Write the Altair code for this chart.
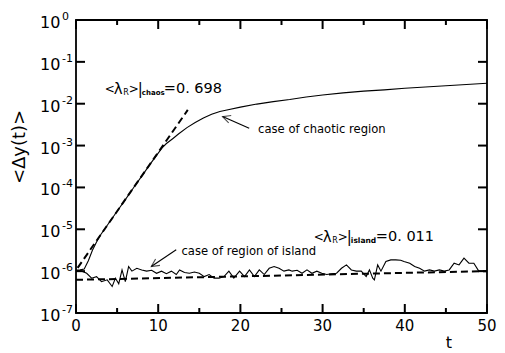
import altair as alt
import pandas as pd

FONT = "DejaVu Sans"
W, H = 411, 293
DECADES = 7

# ---- data ----
chaos_t = [0, 0.5, 1.0, 1.5, 2.0, 2.5, 3, 4, 5, 6, 7, 8, 9, 10, 10.5, 11, 11.8, 12.5, 13.5,
           14.5, 15.5, 16.5, 17.5, 18.5, 20, 22, 24, 26, 28, 30, 32.5, 35, 37.5, 40, 42.5,
           45, 47.5, 50]
chaos_v = [1.05e-6, 1.07e-6, 1.12e-6, 1.78e-6, 3.16e-6, 5.0e-6, 7.4e-6, 1.41e-5, 2.69e-5,
           5.1e-5, 9.8e-5, 1.86e-4, 3.55e-4, 6.6e-4, 8.9e-4, 1.12e-3, 1.48e-3, 1.91e-3,
           2.69e-3, 3.55e-3, 4.57e-3, 5.6e-3, 6.5e-3, 7.2e-3, 8.3e-3, 9.8e-3, 1.12e-2,
           1.26e-2, 1.45e-2, 1.62e-2, 1.82e-2, 2.0e-2, 2.14e-2, 2.34e-2, 2.51e-2, 2.69e-2,
           2.88e-2, 3.09e-2]

chaos_fit_t = [0.2, 13.6]
chaos_fit_v = [1.2e-6, 7.1e-3]

island_t = [0.0, 0.7, 1.3, 1.9, 2.5, 3.1, 3.8, 4.4, 4.8, 5.2, 5.6, 6.0, 6.4, 6.8, 7.4, 8.0,
            8.6, 9.2, 9.8, 10.4, 11.0, 11.6, 12.2, 12.6, 13.2, 13.8, 14.4, 15.0, 15.6, 16.2,
            16.8, 17.4, 18.0, 18.6, 19.2, 19.9, 20.5, 21.1, 21.7, 22.3, 22.9, 23.5, 24.1,
            24.7, 25.3, 25.9, 26.3, 26.9, 27.5, 28.1, 28.7, 29.3, 29.9, 30.5, 31.1, 31.7,
            32.3, 32.9, 33.5, 34.1, 34.7, 35.3, 35.7, 36.1, 36.3, 36.7, 37.1, 37.7, 38.3,
            38.9, 39.5, 39.9, 40.6, 41.2, 41.8, 42.4, 43.0, 43.6, 44.2, 44.8, 45.4, 46.0,
            46.6, 47.2, 47.8, 48.4, 49.0, 49.6, 50.0]
island_v = [1.05e-6, 1.0e-6, 8.9e-7, 6.8e-7, 7.4e-7, 5.6e-7, 6.2e-7, 4.3e-7, 6.8e-7, 5.0e-7,
            1.07e-6, 5.6e-7, 1.29e-6, 1.0e-6, 1.17e-6, 1.07e-6, 1.0e-6, 1.05e-6, 8.9e-7,
            1.0e-6, 8.7e-7, 1.0e-6, 8.3e-7, 1.07e-6, 9.3e-7, 8.9e-7, 9.5e-7, 8.9e-7, 7.4e-7,
            8.3e-7, 6.8e-7, 6.8e-7, 7.4e-7, 1.0e-6, 6.8e-7, 1.0e-6, 7.4e-7, 1.07e-6, 7.4e-7,
            1.07e-6, 8.3e-7, 1.17e-6, 1.29e-6, 1.17e-6, 1.0e-6, 1.07e-6, 1.0e-6, 1.05e-6,
            8.9e-7, 1.07e-6, 8.9e-7, 1.0e-6, 8.9e-7, 8.3e-7, 8.7e-7, 8.9e-7, 1.17e-6, 1.41e-6,
            1.07e-6, 1.0e-6, 1.0e-6, 7.4e-7, 1.07e-6, 6.8e-7, 6.2e-7, 1.41e-6, 1.0e-6, 1.70e-6,
            1.86e-6, 1.86e-6, 1.82e-6, 1.70e-6, 1.55e-6, 1.29e-6, 1.17e-6, 1.0e-6, 1.07e-6,
            1.0e-6, 1.07e-6, 1.0e-6, 1.07e-6, 1.55e-6, 1.41e-6, 2.04e-6, 1.55e-6, 1.55e-6,
            1.0e-6, 1.0e-6, 1.02e-6]

island_fit_t = [0, 50]
island_fit_v = [6.2e-7, 1.0e-6]

x_major = [0, 10, 20, 30, 40, 50]
x_labels = ["0", "10", "20", "30", "40", "50"]
x_minor = [5, 15, 25, 35, 45]
y_major = [1, 1e-1, 1e-2, 1e-3, 1e-4, 1e-5, 1e-6, 1e-7]
y_exp = ["0", "-1", "-2", "-3", "-4", "-5", "-6", "-7"]

# annotation anchors (data coordinates)
arrow_chaos = {"t": 21.07, "v": 2.6e-3, "t2": 17.83, "v2": 4.92e-3}
arrow_island = {"t": 12.19, "v": 3.24e-6, "t2": 9.16, "v2": 1.29e-6}
lab_chaos_anchor = {"t": 3.5, "v": 2.25e-2}
lab_island_anchor = {"t": 28.93, "v": 6.6e-6}
case_chaos_anchor = {"t": 22.15, "v": 2.37e-3}
case_island_anchor = {"t": 12.83, "v": 2.82e-6}

X_MIN, X_MAX = 0, 50
Y_MIN, Y_MAX = 1e-7, 1
xs = alt.Scale(domain=[X_MIN, X_MAX], nice=False, zero=False)
ys = alt.Scale(type="log", domain=[Y_MIN, Y_MAX], nice=False)


def X(field="t"):
    return alt.X(f"{field}:Q", scale=xs, axis=None)


def Y(field="v"):
    return alt.Y(f"{field}:Q", scale=ys, axis=None)


def line(t, v, dash=None, width=1.1):
    kw = dict(color="black", strokeWidth=width, clip=True)
    if dash:
        kw["strokeDash"] = dash
    return alt.Chart(pd.DataFrame({"t": t, "v": v})).mark_line(**kw).encode(x=X(), y=Y())


def seg(anchor, text, size, dx, dy=0, weight="normal"):
    return alt.Chart(pd.DataFrame([anchor])).mark_text(
        text=text, fontSize=size, dx=dx, dy=dy, align="left", baseline="middle",
        font=FONT, fontWeight=weight, color="black").encode(x=X(), y=Y())


def arrow(a, angle):
    df = pd.DataFrame([a])
    shaft = alt.Chart(df).mark_rule(color="black", strokeWidth=1.1).encode(
        x=X("t"), y=Y("v"), x2="t2:Q", y2="v2:Q")
    head = alt.Chart(df).mark_point(
        shape="M -2.6 -1.3 L 0 0 L -2.6 1.3", size=36, filled=False, stroke="black",
        strokeWidth=1.1, angle=angle).encode(x=X("t2"), y=Y("v2"))
    return shaft + head


# inward ticks: short two-point lines whose far end is the tick length (px)
# converted through the scales
def tick_lines(rows):
    df = pd.DataFrame(rows, columns=["id", "t", "v"])
    return alt.Chart(df).mark_line(color="black", strokeWidth=2).encode(
        x=X(), y=Y(), detail="id:N", order="id:N")


def xticks(vals, length_px, tag):
    f = 10 ** (length_px / (H / DECADES))
    rows = []
    for i, t in enumerate(vals):
        rows += [(f"{tag}b{i}", t, Y_MIN), (f"{tag}b{i}", t, Y_MIN * f),
                 (f"{tag}t{i}", t, Y_MAX), (f"{tag}t{i}", t, Y_MAX / f)]
    return tick_lines(rows)


def yticks(vals, length_px, tag):
    d = length_px * (X_MAX - X_MIN) / W
    rows = []
    for i, v in enumerate(vals):
        rows += [(f"{tag}l{i}", X_MIN, v), (f"{tag}l{i}", X_MIN + d, v),
                 (f"{tag}r{i}", X_MAX - d, v), (f"{tag}r{i}", X_MAX, v)]
    return tick_lines(rows)


layers = [xticks(x_major, 9, "M"), xticks(x_minor, 5, "m"), yticks(y_major, 9, "Y")]

layers += [line(island_t, island_v),
           line(island_fit_t, island_fit_v, dash=[7, 4], width=2),
           line(chaos_t, chaos_v),
           line(chaos_fit_t, chaos_fit_v, dash=[7, 4], width=2),
           arrow(arrow_chaos, 199),
           arrow(arrow_island, 146)]

# lambda labels
layers += [seg(lab_chaos_anchor, "<", 12, 0), seg(lab_chaos_anchor, "λ", 15, 9),
           seg(lab_chaos_anchor, "R", 8, 18.5, 4), seg(lab_chaos_anchor, ">", 12, 24),
           seg(lab_chaos_anchor, "|", 15, 33), seg(lab_chaos_anchor, "chaos", 7, 37, 4, "bold"),
           seg(lab_chaos_anchor, "=0. 698", 14.5, 59)]
layers += [seg(lab_island_anchor, "<", 12, 0), seg(lab_island_anchor, "λ", 15, 9),
           seg(lab_island_anchor, "R", 8, 18.5, 4), seg(lab_island_anchor, ">", 12, 24),
           seg(lab_island_anchor, "|", 15, 33), seg(lab_island_anchor, "island", 7.5, 37, 4, "bold"),
           seg(lab_island_anchor, "=0. 011", 14.5, 62)]
layers += [seg(case_chaos_anchor, "case of chaotic region", 11.6, 0),
           seg(case_island_anchor, "case of region of island", 11.6, 0)]

# x tick labels
xmaj_df = pd.DataFrame({"t": x_major, "lab": x_labels})
layers += [alt.Chart(xmaj_df).mark_text(align="center", baseline="middle", fontSize=15, font=FONT,
                                        color="black").encode(x=X(), y=alt.value(H + 13), text="lab:N")]

# y tick labels 10^n
ymaj_df = pd.DataFrame({"v": y_major, "base": ["10"] * len(y_major), "exp": y_exp})
layers += [
    alt.Chart(ymaj_df).mark_text(align="left", baseline="middle", fontSize=16, font=FONT,
                                 dy=3, color="black").encode(x=alt.value(-36), y=Y(), text="base:N"),
    alt.Chart(ymaj_df).mark_text(align="left", baseline="middle", fontSize=11, font=FONT,
                                 dy=-3, color="black").encode(x=alt.value(-14), y=Y(), text="exp:N"),
]

# axis titles
title_df = pd.DataFrame({"ytitle": ["<Δy(t)>"], "xtitle": ["t"]})
layers += [
    alt.Chart(title_df).mark_text(angle=270, align="center", baseline="middle", fontSize=18,
                                  font=FONT, color="black").encode(
        x=alt.value(-56), y=alt.value(127), text="ytitle:N"),
    alt.Chart(title_df).mark_text(align="center", baseline="alphabetic", fontSize=16,
                                  font=FONT, color="black").encode(
        x=alt.value(373), y=alt.value(328), text="xtitle:N"),
]

chart = alt.layer(*layers).properties(
    width=W, height=H,
    autosize=alt.AutoSizeParams(type="none"),
    padding={"left": 68, "top": 12, "right": 10, "bottom": 39},
).configure_view(stroke="black", strokeWidth=1.8)

chart.save("out.html", embed_options={"renderer": "svg", "actions": False})
